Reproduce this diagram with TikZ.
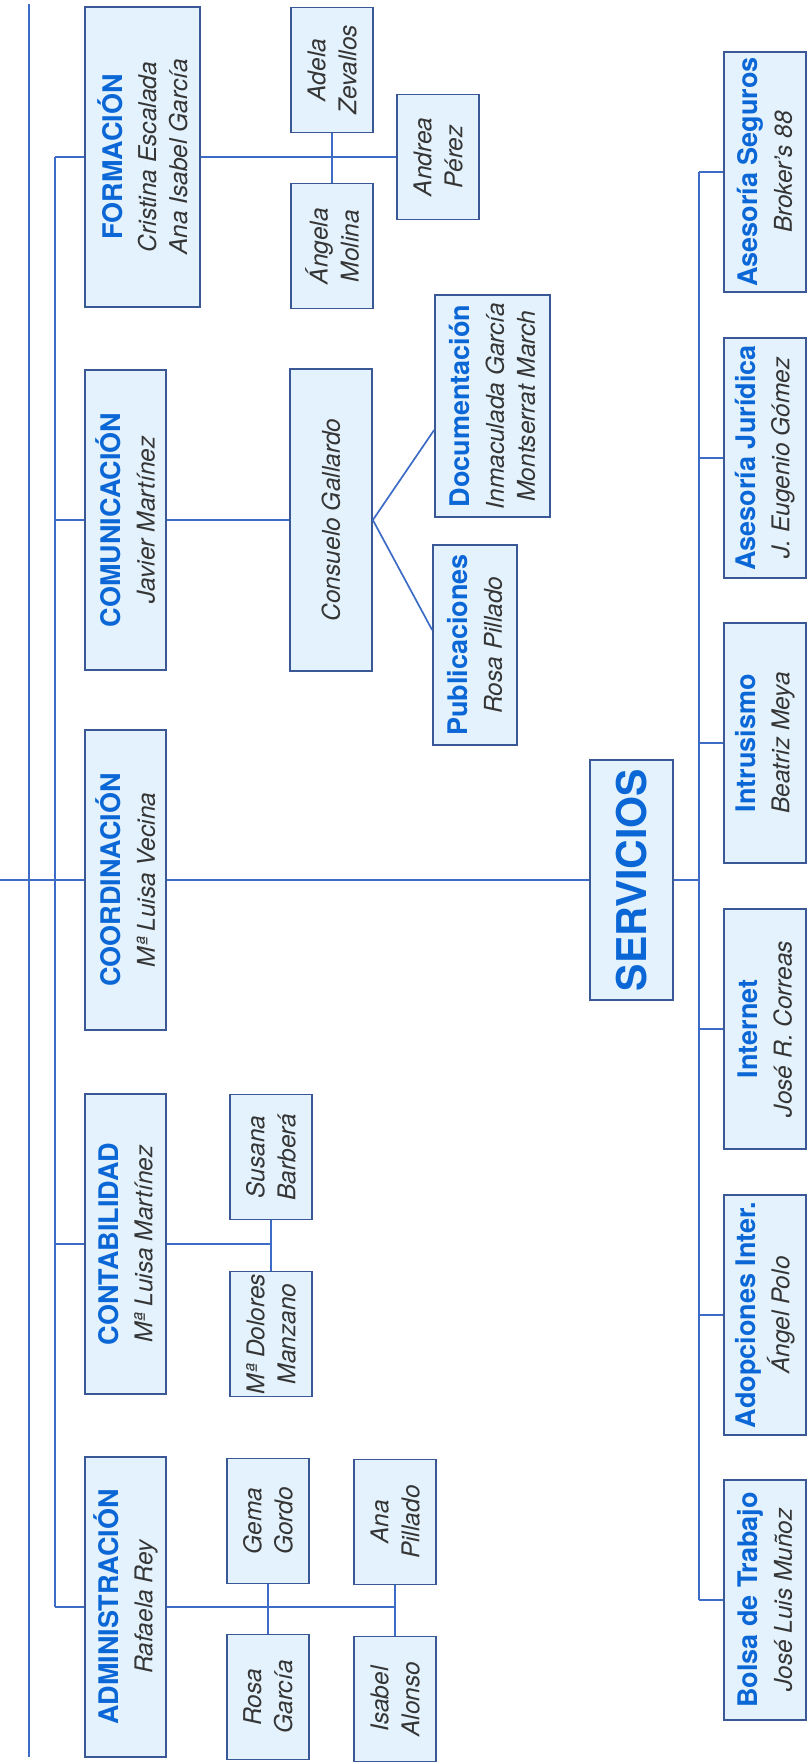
\documentclass[tikz,border=0pt]{standalone}
\usepackage{fontspec}
\setmainfont{TeX Gyre Heros}
\usepackage{tikz}
\usetikzlibrary{calc}
\definecolor{lineblue}{HTML}{3D6CC6}
\definecolor{boxedge}{HTML}{3A5896}
\definecolor{boxfill}{HTML}{E3F2FC}
\definecolor{headblue}{HTML}{0B66D6}
\definecolor{namegray}{HTML}{353535}
\newcommand{\nmfont}{\fontsize{24.5}{31}\selectfont\itshape}
\newcommand{\hd}[1]{{\fontsize{27}{33}\selectfont\bfseries\upshape\color{headblue}#1}}
\tikzset{
  link/.style={line width=1.7pt, lineblue},
  unit/.style={rectangle, rotate=90, draw=boxedge, fill=boxfill, line width=1.7pt, align=center, inner sep=2pt, text=namegray, font=\nmfont},
  dept/.style={unit, minimum width=300pt, minimum height=81pt},
  member/.style={unit, minimum width=125pt, minimum height=82pt},
  service/.style={unit, minimum width=240pt, minimum height=82pt},
}

\begin{document}
\begin{tikzpicture}[x=1pt, y=-1pt,
    headbox/.style={unit, minimum width=240pt, minimum height=83pt, font=\fontsize{41}{41}\selectfont\bfseries, text=headblue}]
  \useasboundingbox (0,0) rectangle (807,1763);

  % Departments
  \node[dept, minimum height=115pt] (form) at (142.5,157) {\hd{FORMACIÓN}\\[3pt]Cristina Escalada\\Ana Isabel García};
  \node[dept] (comun) at (125.5,520) {\hd{COMUNICACIÓN}\\[3pt]Javier Martínez};
  \node[dept] (coord) at (125.5,880) {\hd{COORDINACIÓN}\\[3pt]Mª Luisa Vecina};
  \node[dept] (cont) at (125.5,1244) {\hd{CONTABILIDAD}\\[3pt]Mª Luisa Martínez};
  \node[dept] (adm) at (125.5,1607) {\hd{ADMINISTRACIÓN}\\[3pt]Rafaela Rey};

  % Staff of each department
  \node[member] (adela) at (332,70) {Adela\\Zevallos};
  \node[member] (angela) at (332,246) {Ángela\\Molina};
  \node[member] (andrea) at (438,157) {Andrea\\Pérez};
  \node[unit, minimum width=302pt, minimum height=82pt] (cons) at (331,520) {Consuelo Gallardo};
  \node[unit, minimum width=222pt, minimum height=115pt] (doc) at (492.5,406) {\hd{Documentación}\\[3pt]Inmaculada García\\Montserrat March};
  \node[unit, minimum width=200pt, minimum height=84pt] (publ) at (475,645) {\hd{Publicaciones}\\[3pt]Rosa Pillado};
  \node[member] (susana) at (271,1157) {Susana\\Barberá};
  \node[member] (dolores) at (271,1334) {Mª Dolores\\Manzano};
  \node[member] (gema) at (268,1521) {Gema\\Gordo};
  \node[member] (rosa) at (268,1697) {Rosa\\García};
  \node[member] (ana) at (395,1522) {Ana\\Pillado};
  \node[member] (isabel) at (395,1699) {Isabel\\Alonso};

  % Services
  \node[headbox] (serv) at (631.5,880) {SERVICIOS};
  \node[service] (seg) at (765,172) {\hd{Asesoría Seguros}\\[3pt]Broker’s 88};
  \node[service] (jur) at (765,458) {\hd{Asesoría Jurídica}\\[3pt]J. Eugenio Gómez};
  \node[service] (intr) at (765,743) {\hd{Intrusismo}\\[3pt]Beatriz Meya};
  \node[service] (inet) at (765,1029) {\hd{Internet}\\[3pt]José R. Correas};
  \node[service] (adop) at (765,1315) {\hd{Adopciones Inter.}\\[3pt]Ángel Polo};
  \node[service] (bolsa) at (765,1600) {\hd{Bolsa de Trabajo}\\[3pt]José Luis Muñoz};

  % Main lines
  \coordinate (atop) at (29,4);
  \coordinate (abot) at (29,1757);
  \coordinate (cin) at (0,880);
  \coordinate (btop) at (55,157);
  \coordinate (bbot) at (55,1607);
  \coordinate (ctop) at (699,172);
  \coordinate (cbot) at (699,1600);
  \draw[link] (atop) -- (abot);
  \draw[link] (cin) -- (coord.north);
  \draw[link] (btop) -- (bbot);
  \draw[link] (form.north) -- (form.north -| btop);
  \draw[link] (comun.north) -- (comun.north -| btop);
  \draw[link] (coord.north) -- (coord.north -| btop);
  \draw[link] (cont.north) -- (cont.north -| btop);
  \draw[link] (adm.north) -- (adm.north -| btop);

  % Department branches
  \draw[link] (form.south) -- (andrea.north);
  \draw[link] (adela.west) -- (angela.east);
  \draw[link] (comun.south) -- (cons.north);
  \draw[link] (cons.south) -- (doc.north |- 0,430);
  \draw[link] (cons.south) -- (publ.north |- 0,630);
  \draw[link] (cont.south) -- (cont.south -| susana.west);
  \draw[link] (susana.west) -- (dolores.east);
  \draw[link] (adm.south) -- (adm.south -| ana.west);
  \draw[link] (gema.west) -- (rosa.east);
  \draw[link] (ana.west) -- (isabel.east);

  % Services branch
  \draw[link] (coord.south) -- (serv.north);
  \draw[link] (serv.south) -- (serv.south -| ctop);
  \draw[link] (ctop) -- (cbot);
  \draw[link] (seg.north) -- (seg.north -| ctop);
  \draw[link] (jur.north) -- (jur.north -| ctop);
  \draw[link] (intr.north) -- (intr.north -| ctop);
  \draw[link] (inet.north) -- (inet.north -| ctop);
  \draw[link] (adop.north) -- (adop.north -| ctop);
  \draw[link] (bolsa.north) -- (bolsa.north -| ctop);
\end{tikzpicture}
\end{document}
